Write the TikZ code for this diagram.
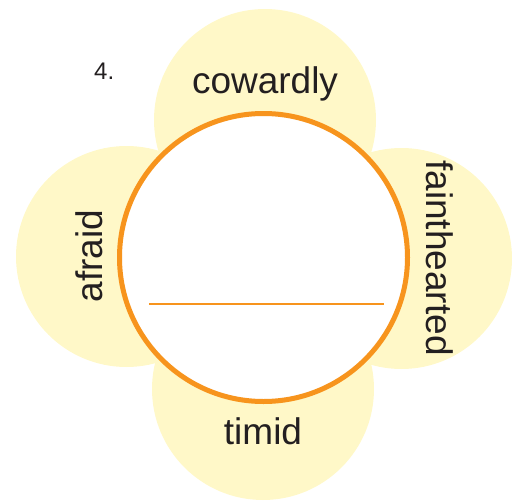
\documentclass[tikz,border=0pt]{standalone}
\usepackage{fontspec}
\setmainfont{Liberation Sans}
\definecolor{petal}{HTML}{FFF8C8}
\definecolor{ring}{HTML}{F7941D}
\definecolor{ink}{HTML}{231F20}
\begin{document}
\begin{tikzpicture}[x=1pt,y=-1pt,
  petalfill/.style={fill=petal,draw=none},
  word/.style={inner sep=0pt,anchor=base,text=ink,font=\fontsize{37}{40}\selectfont}]
\useasboundingbox (0,0) rectangle (517,501);
\fill[petalfill] (265,120) circle (111);
\fill[petalfill] (126.5,256.5) circle (110.5);
\fill[petalfill] (401.5,258.5) circle (110.5);
\fill[petalfill] (263,389) circle (111);
\draw[ring,line width=5pt,fill=white] (263.5,257.5) circle (144);
\coordinate (la) at (149,304);
\coordinate (lb) at (384,304);
\draw[ring,line width=2pt] (la) -- (lb);
\node[word] (cow) at (265,93) {cowardly};
\node[word] (tim) at (263,444) {timid};
\node[word,rotate=90] (afr) at (102,256) {afraid};
\node[word,rotate=-90] (fai) at (426,258) {fainthearted};
\node[inner sep=0pt,anchor=base west,text=ink,font=\fontsize{24}{26}\selectfont] (num) at (94,79) {4.};
\end{tikzpicture}
\end{document}
